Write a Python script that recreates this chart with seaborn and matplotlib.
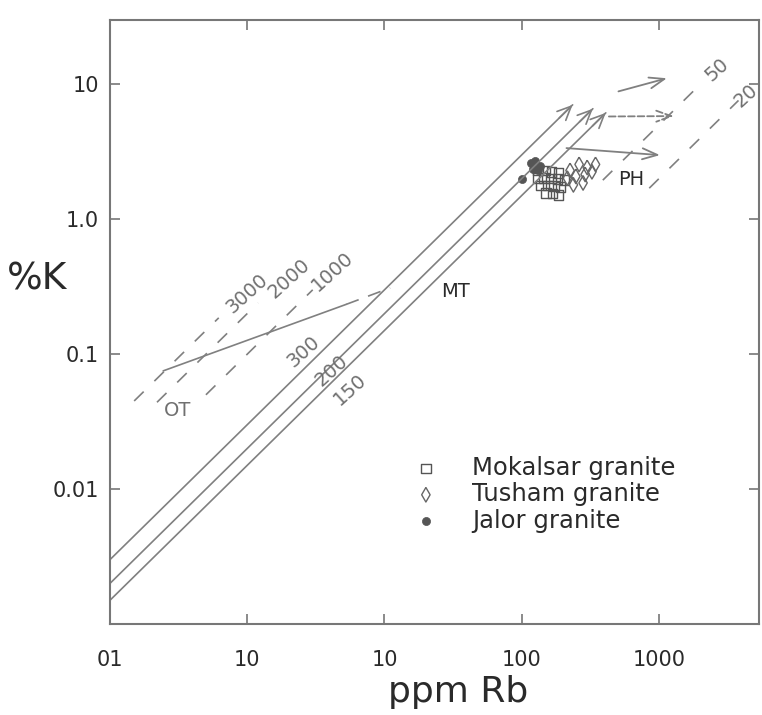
import numpy as np
import pandas as pd
import matplotlib
matplotlib.use("Agg")
import matplotlib.pyplot as plt
import seaborn as sns

# ---- K/Rb reference lines -------------------------------------------------
# main trend (MT): K/Rb ratios, drawn from Rb = 0.1 ppm up to an arrow tip
mt_ratios = [300, 200, 150]
mt_labels = ["300", "200", "150"]
mt_rb_end = [235, 330, 410]
mt_label_rb = [2.55, 4.1, 5.6]
mt_label_k = [0.104, 0.076, 0.055]

# oceanic tholeiite (OT) ratio lines
ot_ratios = [3000, 2000, 1000]
ot_labels = ["3000", "2000", "1000"]
ot_rb_start = [0.15, 0.22, 0.5]
ot_rb_end = [0.62, 1.2, 3.0]
ot_label_rb = [0.99, 2.03, 4.2]
ot_label_k = [0.283, 0.363, 0.41]

# pegmatitic-hydrothermal (PH) ratio lines
ph_ratios = [50, 20]
ph_labels = ["50", "20"]
ph_rb_start = [390, 850]
ph_rb_end = [2000, 3800]
ph_label_rb = [2630, 4300]
ph_label_k = [12.9, 8.3]

# OT trend line (solid part, then dashed continuation)
ot_trend_rb = [0.244, 5.26]
ot_trend_k = [0.0752, 0.234]
ot_ext_rb = [5.26, 11.0]
ot_ext_k = [0.234, 0.31]

# PH trend arrows
arrow_rb0 = [507, 432, 212]
arrow_k0 = [8.87, 5.78, 3.37]
arrow_rb1 = [1143, 1285, 1017]
arrow_k1 = [11.1, 5.82, 2.99]
arrow_ls = ["-", "--", "-"]

# ---- samples --------------------------------------------------------------
mokalsar_rb = [132, 148, 165, 185, 130, 146, 163, 182, 205, 138, 155, 172, 192, 150, 168, 186]
mokalsar_k = [2.30, 2.30, 2.25, 2.20, 2.02, 2.02, 2.00, 1.98, 1.96, 1.78, 1.78, 1.76, 1.74, 1.56, 1.55, 1.52]

tusham_rb = [225, 262, 300, 345, 215, 248, 290, 325, 238, 280]
tusham_k = [2.30, 2.55, 2.42, 2.55, 2.02, 2.08, 2.15, 2.25, 1.80, 1.86]

jalor_rb = [101, 116, 126, 135, 120, 131]
jalor_k = [2.00, 2.60, 2.70, 2.50, 2.35, 2.30]

# ---- axes ticks -----------------------------------------------------------
xtick_vals = [0.1, 1, 10, 100, 1000]
xtick_text = ["01", "10", "10", "100", "1000"]
ytick_vals = [10, 1, 0.1, 0.01]
ytick_text = ["10", "1.0", "0.1", "0.01"]

sns.set_theme(style="ticks")
plt.rcParams["font.family"] = ["DejaVu Sans"]

LINE = "#808080"
TEXT = "#2a2a2a"

fig = plt.figure(figsize=(7.62, 7.15), dpi=100)
ax = fig.add_axes([110 / 762, 1 - 624 / 715, 649 / 762, 604 / 715])
ax.set_xscale("log")
ax.set_yscale("log")
ax.set_xlim(0.1, 5360)
ax.set_ylim(0.001, 30)

# MT lines with arrow tips
for r, rb_end in zip(mt_ratios, mt_rb_end):
    rb = np.array([0.1, rb_end])
    k = r * rb / 1e4
    sns.lineplot(x=rb, y=k, ax=ax, color=LINE, lw=1.2, sort=False, estimator=None)
    ax.annotate("", xy=(rb[1], k[1]), xytext=(rb[1] * 0.8, k[1] * 0.8),
                arrowprops=dict(arrowstyle="->,head_length=0.55,head_width=0.25",
                                color=LINE, lw=1.2, shrinkA=0, shrinkB=0,
                                mutation_scale=18))
for lab, x, y in zip(mt_labels, mt_label_rb, mt_label_k):
    ax.text(x, y, lab, rotation=42, ha="center", va="center",
            fontsize=14, color="#707070")

# OT ratio lines
for r, a, b in zip(ot_ratios, ot_rb_start, ot_rb_end):
    rb = np.array([a, b])
    sns.lineplot(x=rb, y=r * rb / 1e4, ax=ax, color=LINE, lw=1.2,
                 linestyle=(0, (8, 9)), sort=False, estimator=None)
for lab, x, y in zip(ot_labels, ot_label_rb, ot_label_k):
    ax.text(x, y, lab, rotation=42, ha="center", va="center",
            fontsize=14, color="#707070")

# OT trend
sns.lineplot(x=ot_trend_rb, y=ot_trend_k, ax=ax, color=LINE, lw=1.2,
             sort=False, estimator=None)
sns.lineplot(x=ot_ext_rb, y=ot_ext_k, ax=ax, color=LINE, lw=1.2,
             linestyle=(0, (8, 6)), sort=False, estimator=None)

# PH ratio lines
for r, a, b in zip(ph_ratios, ph_rb_start, ph_rb_end):
    rb = np.array([a, b])
    sns.lineplot(x=rb, y=r * rb / 1e4, ax=ax, color=LINE, lw=1.2,
                 linestyle=(0, (8, 9)), sort=False, estimator=None)
for lab, x, y in zip(ph_labels, ph_label_rb, ph_label_k):
    ax.text(x, y, lab, rotation=42, ha="center", va="center",
            fontsize=14, color="#707070", clip_on=False)

# PH trend arrows
for x0, y0, x1, y1, ls in zip(arrow_rb0, arrow_k0, arrow_rb1, arrow_k1, arrow_ls):
    ax.annotate("", xy=(x1, y1), xytext=(x0, y0),
                arrowprops=dict(arrowstyle="->,head_length=0.6,head_width=0.22",
                                color=LINE, lw=1.3, linestyle=ls,
                                shrinkA=0, shrinkB=0, mutation_scale=18))

# field labels
ax.text(33, 0.29, "MT", fontsize=14, color=TEXT, ha="center", va="center")
ax.text(0.31, 0.038, "OT", fontsize=14, color="#707070", ha="center", va="center")
ax.text(630, 1.97, "PH", fontsize=14, color=TEXT, ha="center", va="center")

# samples
diamond = [(0, 1), (0.58, 0), (0, -1), (-0.58, 0), (0, 1)]
sns.scatterplot(x=mokalsar_rb, y=mokalsar_k, ax=ax, marker="s", s=48,
                facecolor="none", edgecolor="#555555", linewidth=1.0,
                label="Mokalsar granite")
sns.scatterplot(x=tusham_rb, y=tusham_k, ax=ax, marker=diamond, s=110,
                facecolor="none", edgecolor="#666666", linewidth=1.0,
                label="Tusham granite")
sns.scatterplot(x=jalor_rb, y=jalor_k, ax=ax, marker="o", s=34,
                facecolor="#555555", edgecolor="#555555", linewidth=0.5,
                label="Jalor granite")

leg = ax.legend(loc="center left", bbox_to_anchor=(0.468, 0.215),
                frameon=False, fontsize=17.5, handlelength=1.0,
                handletextpad=1.4, labelspacing=0.1, borderpad=0,
                borderaxespad=0)
for t in leg.get_texts():
    t.set_color(TEXT)

# axes styling
ax.minorticks_off()
ax.set_xticks(xtick_vals)
ax.set_xticklabels(xtick_text)
ax.set_yticks(ytick_vals)
ax.set_yticklabels(ytick_text)
ax.tick_params(axis="both", which="major", direction="in", length=7, width=1.2,
               color="#777777", labelcolor=TEXT, labelsize=15,
               top=True, right=True)
ax.tick_params(axis="x", pad=19)
ax.tick_params(axis="y", pad=8)
for sp in ax.spines.values():
    sp.set_visible(True)
    sp.set_color("#777777")
    sp.set_linewidth(1.5)

ax.set_xlabel("ppm Rb", fontsize=26, color=TEXT)
ax.xaxis.set_label_coords(0.536, -0.113)
ax.xaxis.label.set_va("center")
ax.set_ylabel("%K", fontsize=27, color=TEXT, rotation=0)
ax.yaxis.set_label_coords(-0.112, 0.57)
ax.yaxis.label.set_va("center")
ax.yaxis.label.set_ha("center")

fig.savefig("out.png", dpi=100)
